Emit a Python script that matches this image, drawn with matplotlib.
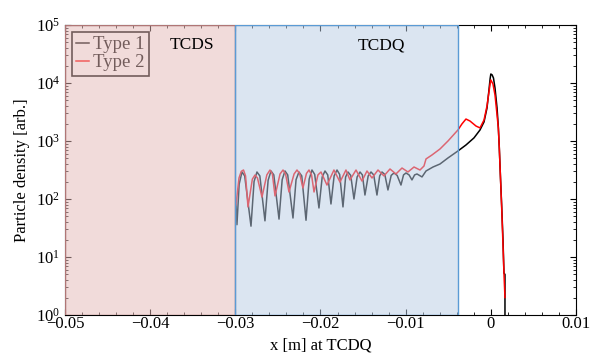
import numpy as np
import matplotlib
matplotlib.use("Agg")
import matplotlib.pyplot as plt
from matplotlib.ticker import AutoMinorLocator, LogLocator, NullFormatter

plt.rcParams["font.family"] = "serif"
plt.rcParams["font.serif"] = ["Liberation Serif", "DejaVu Serif"]
plt.rcParams["mathtext.fontset"] = "stix"

# type 1 (black)
x1 = [-0.02992, -0.02981, -0.02955, -0.02922, -0.02890, -0.02816, -0.02780, -0.02746,
      -0.02712, -0.02652, -0.02615, -0.02581, -0.02548, -0.02487, -0.02450, -0.02417,
      -0.02385, -0.02323, -0.02287, -0.02253, -0.02220, -0.02170, -0.02133, -0.02100,
      -0.02068, -0.02018, -0.01980, -0.01947, -0.01915, -0.01877, -0.01840, -0.01806,
      -0.01775, -0.01736, -0.01705, -0.01677, -0.01645, -0.01607, -0.01570, -0.01536,
      -0.01508, -0.01478, -0.01440, -0.01407, -0.01375, -0.01337, -0.01305, -0.01278,
      -0.01245, -0.01208, -0.01170, -0.01137, -0.01100, -0.01055, -0.01025, -0.00996,
      -0.00960, -0.00926, -0.00895, -0.00867, -0.00808,
      -0.00761, -0.00679, -0.00597, -0.00503, -0.00386, -0.00292, -0.00198, -0.00127,
      -0.00080, -0.00045, -0.00022, -0.00008, 0.0, 0.00015, 0.00031, 0.00049, 0.00073,
      0.00088, 0.00099, 0.00113, 0.00127, 0.00143, 0.00154, 0.00166, 0.00166]
y1 = [79, 36, 180, 292, 250, 34, 200, 292,
      250, 42, 210, 304, 260, 45, 215, 304,
      260, 47, 215, 292, 250, 43, 220, 316,
      265, 70, 240, 304, 260, 82, 250, 316,
      265, 73, 240, 292, 255, 100, 240, 292,
      260, 117, 250, 292, 260, 117, 250, 292,
      265, 143, 255, 281, 255, 174, 260, 281,
      260, 213, 260, 270, 240,
      304, 356, 401, 510, 673, 853, 1130, 1550,
      2130, 3700, 7570, 12000, 14290, 13800, 12190, 8200, 3700,
      1740, 789, 240, 79, 19.6, 5.3, 5.0, 0.5]

# type 2 (red)
x2 = [-0.02992, -0.02957, -0.02930, -0.02904, -0.02880, -0.02851, -0.02800, -0.02769,
      -0.02740, -0.02687, -0.02630, -0.02593, -0.02565, -0.02534, -0.02475, -0.02440,
      -0.02410, -0.02370, -0.02310, -0.02276, -0.02245, -0.02206, -0.02165, -0.02135,
      -0.02105, -0.02076, -0.02030, -0.01994, -0.01924,
      -0.01842, -0.01771, -0.01701, -0.01654, -0.01583, -0.01513, -0.01454, -0.01395,
      -0.01325, -0.01255, -0.01184, -0.01114, -0.01043, -0.00973, -0.00902, -0.00832,
      -0.00785, -0.00761, -0.00691, -0.00597, -0.00503, -0.00386, -0.00339, -0.00292,
      -0.00245, -0.00174, -0.00127, -0.00080, -0.00045, -0.00022, -0.00008, 0.0, 0.00025,
      0.00049, 0.00073, 0.00088, 0.00099, 0.00113, 0.00127, 0.00143, 0.00154, 0.00166]
y2 = [79, 230, 300, 316, 250, 73, 220, 259,
      230, 108, 260, 316, 270, 113, 270, 316,
      270, 132, 270, 316, 275, 155, 275, 316,
      260, 132, 260, 292, 174,
      316, 196, 316, 213, 316, 204, 304, 230,
      316, 250, 329, 270, 342, 292, 356, 316,
      370, 490, 574, 728, 1000, 1550, 1970, 2390,
      2210, 1810, 1680, 2300, 4010, 7000, 9800, 11270, 9610,
      6210, 2810, 1680, 789, 240, 73, 16, 5.3, 2.0]

tcds = (-0.05, -0.03)
tcdq = (-0.03, -0.0039)

fig = plt.figure(figsize=(5.94, 3.59), dpi=100)
ax = fig.add_axes([0.1094, 0.1226, 0.8603, 0.8078])

ax.plot(x1, y1, color="black", lw=1.1, label="Type 1", zorder=2)
ax.plot(x2, y2, color="red", lw=1.1, label="Type 2", zorder=2.1)

leg = ax.legend(loc="upper left", fontsize=13.5, handlelength=0.7, handletextpad=0.2,
                borderpad=0.25, labelspacing=0.05, fancybox=False, framealpha=1,
                edgecolor="black", borderaxespad=0.35)
leg.get_frame().set_linewidth(1.2)
leg.set_zorder(3)

ax.axvspan(*tcds, facecolor=(229/255, 185/255, 183/255, 0.5), edgecolor="#b07676", lw=1.0, zorder=6)
ax.axvspan(*tcdq, facecolor=(185/255, 205/255, 229/255, 0.5), edgecolor="#5b9bd5", lw=1.0, zorder=6)

ax.text(-0.0351, 4.5e4, "TCDS", ha="center", va="center", fontsize=12.5, zorder=7)
ax.text(-0.0128, 4.5e4, "TCDQ", ha="center", va="center", fontsize=12.5, zorder=7)

ax.set_yscale("log")
ax.set_xlim(-0.05, 0.01)
ax.set_ylim(1, 1e5)
ax.set_xticks([-0.05, -0.04, -0.03, -0.02, -0.01, 0, 0.01])
ax.set_xticklabels(["\u22120.05", "\u22120.04", "\u22120.03", "\u22120.02", "\u22120.01", "0", "0.01"])
ax.xaxis.set_minor_locator(AutoMinorLocator(5))
ax.yaxis.set_major_locator(LogLocator(base=10, numticks=10))
ax.yaxis.set_minor_locator(LogLocator(base=10, subs=np.arange(2, 10), numticks=10))
ax.yaxis.set_minor_formatter(NullFormatter())
ax.tick_params(which="both", direction="in", top=True, right=True, labelsize=12)
ax.tick_params(which="major", length=4)
ax.tick_params(which="minor", length=2)
ax.tick_params(axis="x", pad=1)

ax.set_xlabel("x [m] at TCDQ", fontsize=12, labelpad=4)
ax.set_ylabel("Particle density [arb.]", fontsize=12, labelpad=4)

fig.savefig("out.png", dpi=100)
